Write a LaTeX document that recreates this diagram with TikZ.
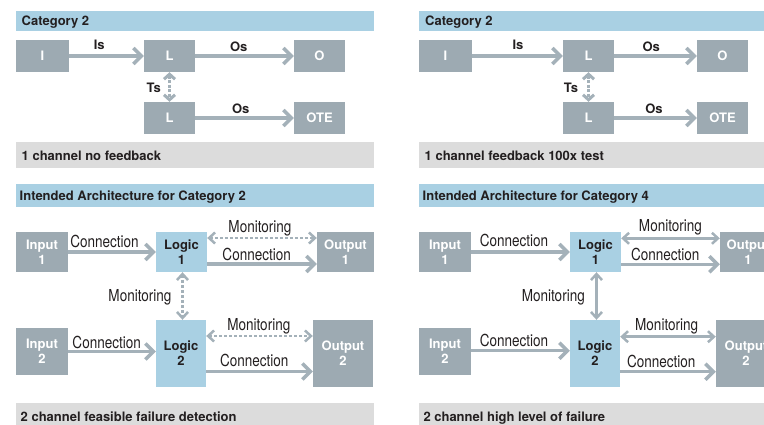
\documentclass[tikz,border=0pt]{standalone}
\usepackage{fontspec}
\setmainfont{TeX Gyre Heros}
\newfontfamily\condfont[FakeStretch=0.82]{TeX Gyre Heros}
\usetikzlibrary{arrows.meta}

\definecolor{hdrblue}{HTML}{A9D0E3}
\definecolor{boxgray}{HTML}{9DAAB2}
\definecolor{arrgray}{HTML}{A4B1B9}
\definecolor{ftgray}{HTML}{DCDCDC}
\definecolor{ink}{HTML}{231F20}

\tikzset{
  boldtxt/.style={font=\bfseries\fontsize{13}{15.3}\selectfont},
  graybox/.style={boldtxt, fill=boxgray, text=white, inner sep=0pt, align=center},
  logicbox/.style={boldtxt, fill=hdrblue, text=ink, inner sep=0pt, align=center},
  bartext/.style={boldtxt, text=ink, anchor=west, inner sep=0pt, text height=9.3pt, text depth=0pt},
  sig/.style={boldtxt, text=ink, inner sep=0pt, text height=9.3pt, text depth=0pt},
  cond/.style={font=\condfont\fontsize{16.5}{18}\selectfont, text=ink, inner sep=0pt, text height=11.85pt, text depth=0pt},
  conn/.style={draw=arrgray, line width=3.5pt, -{Straight Barb[length=8pt,width=16pt]}},
  mon/.style={draw=arrgray, line width=2.5pt, {Straight Barb[length=6pt,width=11pt]}-{Straight Barb[length=6pt,width=11pt]}},
  dmon/.style={mon, dash pattern=on 3pt off 2pt},
  tsig/.style={draw=arrgray, line width=3pt, dash pattern=on 3pt off 1.5pt, {Straight Barb[length=5pt,width=11pt]}-{Straight Barb[length=5pt,width=11pt]}},
}

\begin{document}
\begin{tikzpicture}[x=1pt,y=-1pt]
\useasboundingbox (0,0) rectangle (764,425);
\clip (0,0) rectangle (764,425);

% ---------- Category 2, one channel without feedback ----------
\fill[hdrblue] (16,11) rectangle (374,31);
\node[bartext] (h1) at (21.5,20.5) {Category 2};
\fill[ftgray] (16,142) rectangle (374,168);
\node[bartext] (f1) at (21.5,156.3) {1 channel no feedback};

\node[graybox, minimum width=53pt, minimum height=32pt] (aI) at (42.5,56) {I};
\node[graybox, minimum width=51pt, minimum height=32pt] (aL) at (169.5,56) {L};
\node[graybox, minimum width=51pt, minimum height=32pt] (aO) at (319.5,56) {O};
\node[graybox, minimum width=51pt, minimum height=32pt] (aT) at (169.5,118) {L};
\node[graybox, minimum width=51pt, minimum height=32pt] (aE) at (319.5,118) {OTE};

\draw[conn] (aI.east) -- (aL.west);
\draw[conn] (aL.east) -- (aO.west);
\draw[conn] (aT.east) -- (aE.west);
\draw[tsig] (aL.south) -- (aT.north);
\node[sig] (aIs) at (99.3,44.8) {Is};
\node[sig] (aOs) at (238.7,46.7) {Os};
\node[sig] (aTs) at (153.7,88) {Ts};
\node[sig] (aOs2) at (240.8,108.7) {Os};

% ---------- Category 2, one channel with test feedback ----------
\fill[hdrblue] (419,11) rectangle (764,31);
\node[bartext] (h2) at (425,20.5) {Category 2};
\fill[ftgray] (419,142) rectangle (764,168);
\node[bartext] (f2) at (424.5,156.3) {1 channel feedback 100x test};

\node[graybox, minimum width=53pt, minimum height=32pt] (bI) at (445.5,56) {I};
\node[graybox, minimum width=51pt, minimum height=32pt] (bL) at (588.5,56) {L};
\node[graybox, minimum width=51pt, minimum height=32pt] (bO) at (722.5,56) {O};
\node[graybox, minimum width=51pt, minimum height=32pt] (bT) at (588.5,118) {L};
\node[graybox, minimum width=51pt, minimum height=32pt] (bE) at (722.5,118) {OTE};

\draw[conn] (bI.east) -- (bL.west);
\draw[conn] (bL.east) -- (bO.west);
\draw[conn] (bT.east) -- (bE.west);
\draw[tsig] (bL.south) -- (bT.north);
\node[sig] (bIs) at (518,44.5) {Is};
\node[sig] (bOs) at (651.3,46.7) {Os};
\node[sig] (bTs) at (571,88) {Ts};
\node[sig] (bOs2) at (654,108.5) {Os};

% ---------- Intended architecture, Category 2 ----------
\fill[hdrblue] (16,184) rectangle (374,207);
\node[bartext] (h3) at (19.5,195.7) {Intended Architecture for Category 2};
\fill[ftgray] (16,403) rectangle (374,430);
\node[bartext] (f3) at (20.5,416.7) {2 channel feasible failure detection};

\node[graybox, minimum width=52pt, minimum height=40pt] (cI1) at (42,252) {Input\\1};
\node[logicbox, minimum width=51pt, minimum height=40pt] (cL1) at (181.5,252) {Logic\\1};
\node[graybox, minimum width=57pt, minimum height=40pt] (cO1) at (345.5,252) {Output\\1};
\node[graybox, minimum width=52pt, minimum height=47pt] (cI2) at (42,351.5) {Input\\2};
\node[logicbox, minimum width=50pt, minimum height=67pt] (cL2) at (181,353.5) {Logic\\2};
\node[graybox, minimum width=60pt, minimum height=67pt] (cO2) at (343,353.5) {Output\\2};

\draw[conn] (cI1.east) -- (cI1.east -| cL1.west);
\draw[conn] ([yshift=-12pt]cL1.east) -- ([yshift=-12pt]cO1.west);
\draw[dmon] ([yshift=14pt]cL1.east) -- ([yshift=14pt]cO1.west);
\draw[dmon] ([xshift=1pt]cL1.south) -- ([xshift=1pt]cL1.south |- cL2.north);
\draw[conn] (cI2.east) -- (cI2.east -| cL2.west);
\draw[dmon] ([yshift=17.5pt]cL2.east) -- ([yshift=17.5pt]cL2.east -| cO2.west);
\draw[conn] ([yshift=-18pt]cL2.east) -- ([yshift=-18pt]cL2.east -| cO2.west);

\node[cond] (cC1) at (104.5,241.5) {Connection};
\node[cond] (cC2) at (256.7,254.5) {Connection};
\node[cond] (cM1) at (260,226.7) {Monitoring};
\node[cond] (cMv) at (140,295.8) {Monitoring};
\node[cond] (cM2) at (258.8,324.2) {Monitoring};
\node[cond] (cC3) at (106.7,343) {Connection};
\node[cond] (cC4) at (254.3,360.8) {Connection};

% ---------- Intended architecture, Category 4 ----------
\fill[hdrblue] (419,184) rectangle (764,207);
\node[bartext] (h4) at (422.5,195.7) {Intended Architecture for Category 4};
\fill[ftgray] (419,403) rectangle (764,430);
\node[bartext] (f4) at (423.3,416.7) {2 channel high level of failure};

\node[graybox, minimum width=52pt, minimum height=40pt] (dI1) at (445,252) {Input\\1};
\node[logicbox, minimum width=51pt, minimum height=40pt] (dL1) at (595.5,252) {Logic\\1};
\node[graybox, minimum width=56pt, minimum height=40pt] (dO1) at (748,252) {Output\\1};
\node[graybox, minimum width=52pt, minimum height=47pt] (dI2) at (445,351.5) {Input\\2};
\node[logicbox, minimum width=50pt, minimum height=67pt] (dL2) at (595,353.5) {Logic\\2};
\node[graybox, minimum width=60pt, minimum height=67pt] (dO2) at (746,353.5) {Output\\2};

\draw[conn] (dI1.east) -- (dI1.east -| dL1.west);
\draw[conn] ([yshift=-12.3pt]dL1.east) -- ([yshift=-12.3pt]dO1.west);
\draw[mon] ([yshift=13.7pt]dL1.east) -- ([yshift=13.7pt]dO1.west);
\draw[mon] ([xshift=1pt]dL1.south) -- ([xshift=1pt]dL1.south |- dL2.north);
\draw[conn] ([yshift=0.8pt]dI2.east) -- ([yshift=0.8pt]dI2.east -| dL2.west);
\draw[mon] ([yshift=16.8pt]dL2.east) -- ([yshift=16.8pt]dL2.east -| dO2.west);
\draw[conn] ([yshift=-18.2pt]dL2.east) -- ([yshift=-18.2pt]dL2.east -| dO2.west);

\node[cond] (dC1) at (514,241) {Connection};
\node[cond] (dM1) at (670.5,226) {Monitoring};
\node[cond] (dC2) at (665.3,254.7) {Connection};
\node[cond] (dMv) at (553.3,296) {Monitoring};
\node[cond] (dC3) at (514,341) {Connection};
\node[cond] (dM2) at (666.7,325) {Monitoring};
\node[cond] (dC4) at (661.3,361.3) {Connection};
\end{tikzpicture}
\end{document}
